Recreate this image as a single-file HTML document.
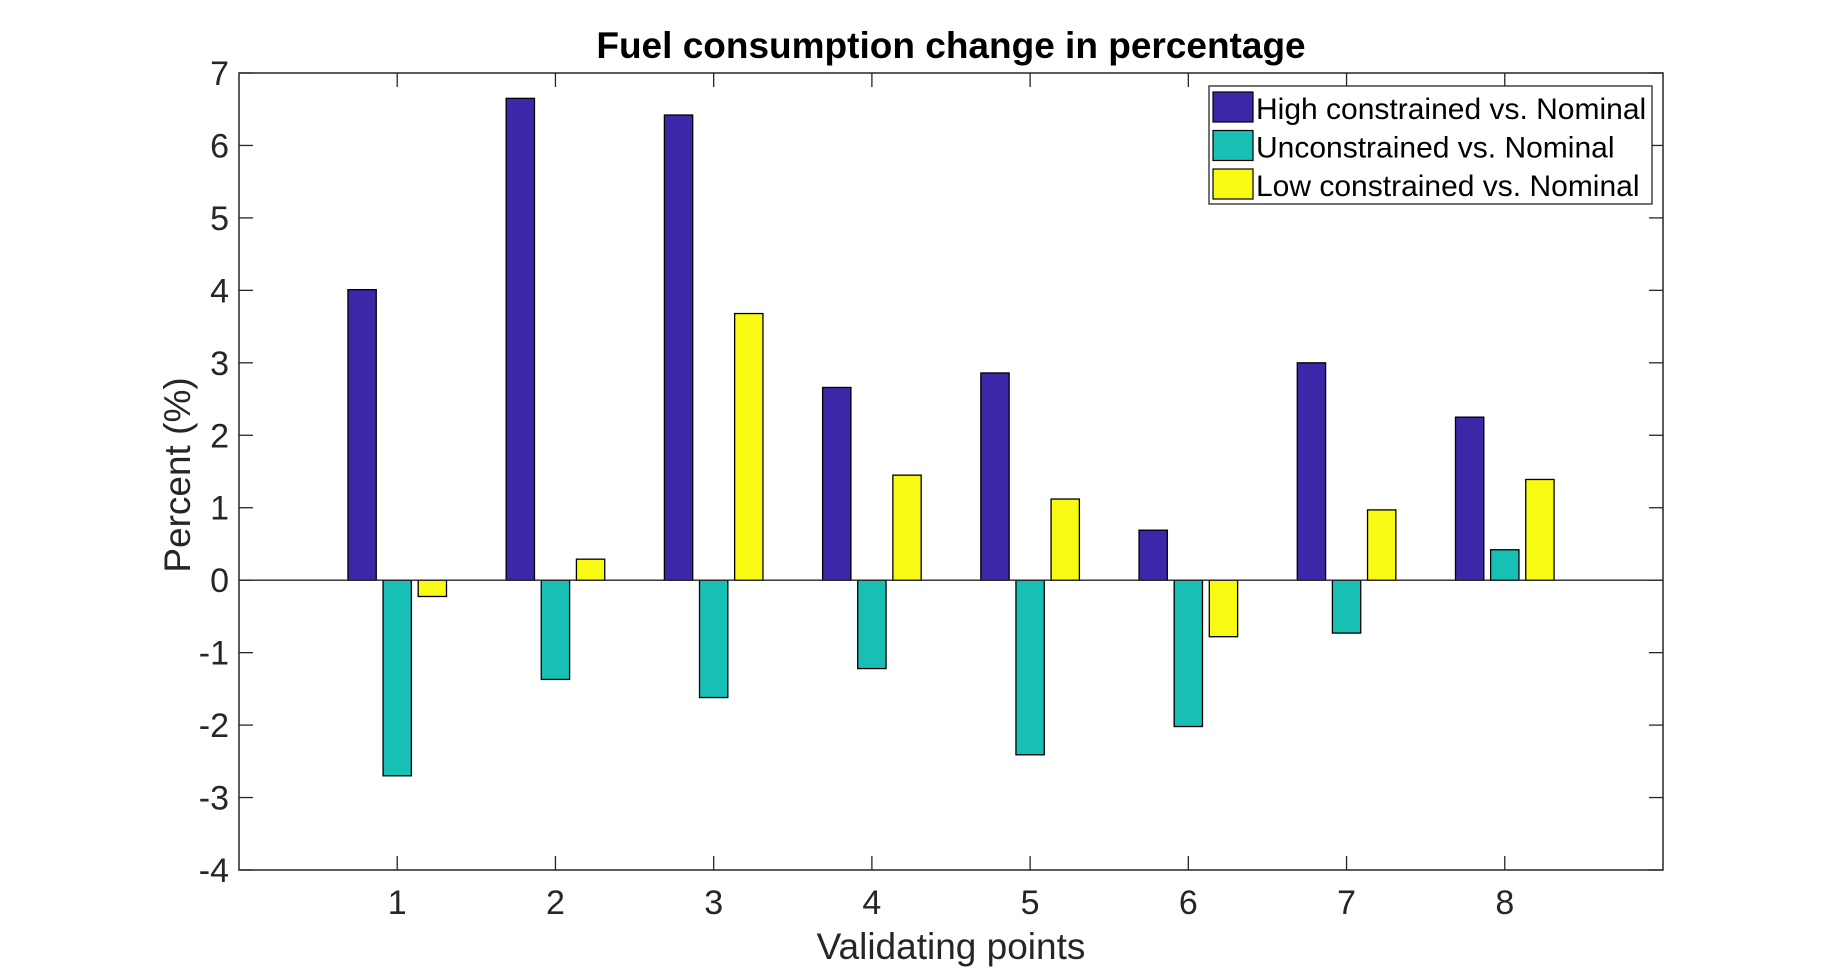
<!DOCTYPE html>
<html><head><meta charset="utf-8"><style>
body{margin:0;background:#fff;}
svg{display:block;font-family:"Liberation Sans",Arial,sans-serif;}
</style></head><body>
<svg id="chart" width="1839" height="979" viewBox="0 0 1839 979">
<rect width="1839" height="979" fill="#fff"/>
<g id="bars"></g>
<g id="axes"></g>
<text x="951" y="58" text-anchor="middle" font-size="37" font-weight="bold" fill="#000">Fuel consumption change in percentage</text>
<text x="951" y="971" text-anchor="middle" font-size="37" fill="#262626" transform="translate(0,-12)">Validating points</text>
<text transform="translate(190,475) rotate(-90)" text-anchor="middle" font-size="37" fill="#262626">Percent (%)</text>
<g id="legend"></g>
</svg>
<script>
const categories = ["1","2","3","4","5","6","7","8"];
const seriesNames = ["High constrained vs. Nominal","Unconstrained vs. Nominal","Low constrained vs. Nominal"];
const highConstrained = [4.01, 6.65, 6.42, 2.66, 2.86, 0.69, 3.00, 2.25];
const unconstrained = [-2.70, -1.37, -1.62, -1.22, -2.41, -2.02, -0.73, 0.42];
const lowConstrained = [-0.225, 0.29, 3.68, 1.45, 1.12, -0.78, 0.97, 1.39];
const yTicks = [-4,-3,-2,-1,0,1,2,3,4,5,6,7];
const colors = ["#3e26a8","#17bfb4","#f8fa14"];
const series = [highConstrained, unconstrained, lowConstrained];

const NS = "http://www.w3.org/2000/svg";
const L=239, R=1663, T=73, B=870;
const xMin=0, xMax=categories.length+1, yMin=-4, yMax=7;
const xs = v => L + (v - xMin) / (xMax - xMin) * (R - L);
const ys = v => B - (v - yMin) / (yMax - yMin) * (B - T);
function mk(tag, attrs, parent){const e=document.createElementNS(NS,tag);for(const k in attrs)e.setAttribute(k,attrs[k]);parent.appendChild(e);return e;}

const barsG=document.getElementById('bars');
const offs=[-0.222,0,0.222], bw=0.179;
series.forEach((s,si)=>{
  s.forEach((v,i)=>{
    const cx=xs(i+1+offs[si]);
    const x0=cx-(xs(bw)-xs(0))/2;
    const y0=Math.min(ys(v),ys(0)), h=Math.abs(ys(v)-ys(0));
    const r=mk('rect',{x:x0,y:y0,width:xs(bw)-xs(0),height:h,fill:colors[si],stroke:'#000','stroke-width':1.3},barsG);
    
    
  });
});

const ax=document.getElementById('axes');
const zl=mk('line',{x1:L,x2:R,y1:ys(0),y2:ys(0),stroke:'#262626','stroke-width':1.3},ax);


const frame=mk('rect',{x:L,y:T,width:R-L,height:B-T,fill:'none',stroke:'#262626','stroke-width':1.5},ax);


yTicks.forEach(t=>{
  const y=ys(t);
  mk('line',{x1:L,x2:L+14,y1:y,y2:y,stroke:'#262626','stroke-width':1.3},ax);
  mk('line',{x1:R,x2:R-14,y1:y,y2:y,stroke:'#262626','stroke-width':1.3},ax);
  const tx=mk('text',{x:L-10,y:y+12,'text-anchor':'end','font-size':34,fill:'#262626'},ax);
  tx.textContent=t;
  
  
});
categories.forEach((c,i)=>{
  const x=xs(i+1);
  mk('line',{x1:x,x2:x,y1:B,y2:B-14,stroke:'#262626','stroke-width':1.3},ax);
  mk('line',{x1:x,x2:x,y1:T,y2:T+14,stroke:'#262626','stroke-width':1.3},ax);
  const tx=mk('text',{x:x,y:926,'text-anchor':'middle','font-size':34,fill:'#262626','transform':'translate(0,-12)'},ax);
  tx.textContent=c;
  
  
});

const lg=document.getElementById('legend');
const box=mk('rect',{x:1209,y:86,width:443,height:118,fill:'#fff',stroke:'#262626','stroke-width':1.3},lg);


seriesNames.forEach((n,i)=>{
  const y=92+i*38.5;
  const sw=mk('rect',{x:1213,y:y,width:40,height:30,fill:colors[i],stroke:'#000','stroke-width':1.2},lg);
  
  
  const tx=mk('text',{x:1256,y:y+27,'font-size':30,fill:'#000'},lg);
  tx.textContent=n;
  
  
});
</script>
</body></html>
